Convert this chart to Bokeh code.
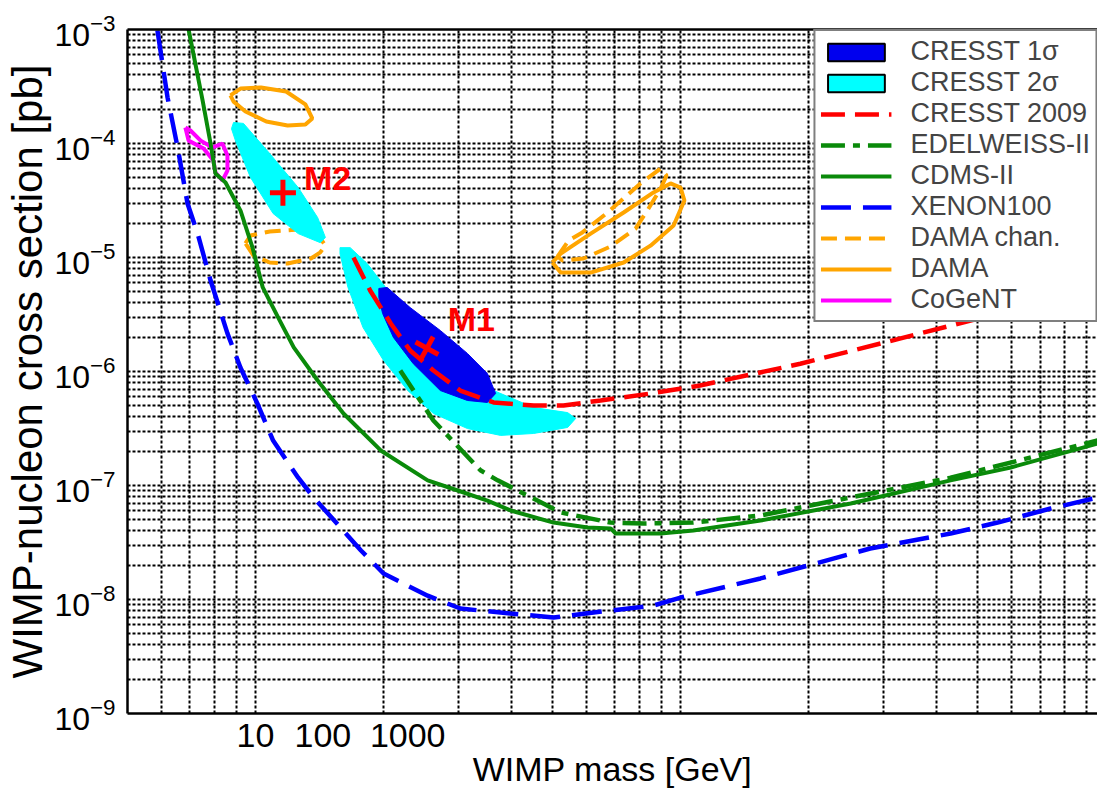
from bokeh.plotting import figure
from bokeh.models import (Range1d, FixedTicker, CustomJSTickFormatter, LogAxis,
                          LogTickFormatter, Legend, LegendItem)
from bokeh.embed import file_html
from bokeh.resources import INLINE
from bokeh.core.properties import value

FONT = "Liberation Sans"

# ---------------- data (mass in GeV, cross section in pb) ----------------
xenon_m = [5.88, 6.21, 6.56, 6.92, 7.31, 7.84, 8.59, 9.22, 10.1, 11.0, 12.6, 13.7, 17.7, 20.0,
           25.4, 30.3, 39.8, 50.2, 62.4, 86.3, 99.9, 154, 279, 431, 556, 741, 955]
xenon_s = [9.8e-4, 2.54e-4, 9.2e-5, 2.98e-5, 1.62e-5, 6.28e-6, 2.16e-6, 1.08e-6, 5.24e-7, 2.48e-7,
           1.17e-7, 7.85e-8, 2.69e-8, 1.69e-8, 1.08e-8, 8.34e-9, 7.53e-9, 6.95e-9, 7.69e-9, 8.85e-9,
           1.04e-8, 1.53e-8, 2.80e-8, 3.79e-8, 4.73e-8, 6.28e-8, 7.85e-8]

cdms_m = [6.96, 7.51, 7.84, 8.05, 8.50, 9.22, 9.84, 10.4, 11.3, 12.3, 14.0, 16.1, 19.7, 25.4,
          29.9, 35.1, 39.8, 50.2, 60.4, 68.4, 70.3, 89.7, 107, 154, 251, 431, 597, 955]
cdms_s = [1.0e-3, 2.38e-4, 1.0e-4, 5.46e-5, 4.55e-5, 2.58e-5, 1.22e-5, 5.46e-6, 2.98e-6, 1.63e-6,
          8.34e-7, 4.28e-7, 2.03e-7, 1.11e-7, 9.04e-8, 7.38e-8, 6.04e-8, 4.73e-8, 4.28e-8, 4.20e-8,
          3.79e-8, 3.79e-8, 4.03e-8, 4.93e-8, 6.95e-8, 1.11e-7, 1.44e-7, 2.33e-7]

edw_m = [21.9, 26.2, 33.8, 37.1, 46.0, 52.2, 68.4, 81.8, 107, 154, 251, 431, 955]
edw_s = [1.02e-6, 3.72e-7, 1.36e-7, 1.11e-7, 7.38e-8, 5.80e-8, 4.73e-8, 4.64e-8, 4.73e-8,
         5.46e-8, 7.85e-8, 1.17e-7, 2.48e-7]

cresst09_m = [17.0, 18.6, 20.8, 23.1, 26.2, 30.3, 36.3, 45.1, 53.0, 64.8, 84.9, 111, 191, 329, 521, 955]
cresst09_s = [1.0e-5, 5.14e-6, 2.64e-6, 1.53e-6, 1.02e-6, 6.81e-7, 5.35e-7, 5.03e-7, 5.03e-7,
              5.57e-7, 6.41e-7, 7.53e-7, 1.17e-6, 1.95e-6, 3.03e-6, 5.35e-6]

# CRESST 2 sigma regions
m1_2s_m = [15.8, 16.7, 18.3, 21.1, 25.4, 30.3, 36.3, 45.1, 54.2, 56.6, 54.2, 45.1, 37.7, 31.5,
           26.2, 22.8, 20.0, 17.9, 16.5, 15.8]
m1_2s_s = [1.22e-5, 1.22e-5, 8.86e-6, 4.46e-6, 2.16e-6, 1.17e-6, 6.81e-7, 4.83e-7, 4.36e-7,
           3.87e-7, 3.23e-7, 2.86e-7, 2.75e-7, 3.16e-7, 4.28e-7, 6.81e-7, 1.25e-6, 2.43e-6,
           5.46e-6, 1.08e-5]
m2_2s_m = [8.88, 9.37, 10.8, 12.6, 14.0, 14.6, 14.2, 12.6, 11.0, 9.73, 8.97, 8.78]
m2_2s_s = [1.53e-4, 1.50e-4, 8.16e-5, 4.11e-5, 2.24e-5, 1.50e-5, 1.35e-5, 1.62e-5, 2.43e-5,
           5.04e-5, 1.06e-4, 1.35e-4]
# CRESST 1 sigma region
m1_1s_m = [19.5, 20.4, 23.1, 27.2, 31.5, 35.1, 36.7, 35.1, 31.5, 27.2, 23.5, 21.1, 19.9, 19.5]
m1_1s_s = [5.35e-6, 5.46e-6, 3.64e-6, 2.29e-6, 1.44e-6, 9.59e-7, 6.41e-7, 5.35e-7, 5.57e-7,
           6.81e-7, 1.17e-6, 1.99e-6, 3.23e-6, 4.46e-6]

# DAMA contours
dama1_m = [8.73, 9.22, 10.3, 11.8, 13.1, 13.6, 13.1, 11.9, 10.6, 9.47, 8.88, 8.73]
dama1_s = [2.64e-4, 3.03e-4, 3.10e-4, 2.86e-4, 2.20e-4, 1.66e-4, 1.47e-4, 1.44e-4, 1.56e-4,
           1.91e-4, 2.33e-4, 2.64e-4]
dama2_m = [49.9, 52.2, 61.4, 73.4, 84.9, 96.2, 102, 99.9, 94.6, 86.3, 73.4, 61.4, 52.2, 49.9]
dama2_s = [9.04e-6, 7.38e-6, 7.38e-6, 9.04e-6, 1.27e-5, 1.91e-5, 3.16e-5, 4.11e-5, 4.46e-5,
           3.72e-5, 2.48e-5, 1.62e-5, 1.08e-5, 9.04e-6]
damach1_m = [9.47, 9.73, 10.8, 12.6, 14.1, 14.6, 14.2, 13.5, 11.9, 10.8, 9.89, 9.47]
damach1_s = [1.33e-5, 1.56e-5, 1.69e-5, 1.76e-5, 1.53e-5, 1.27e-5, 1.11e-5, 9.80e-6, 8.86e-6,
             9.04e-6, 1.04e-5, 1.33e-5]
damach2_m = [51.3, 54.5, 58.7, 67.3, 80.4, 89.7, 92.6, 89.7, 84.0, 78.3, 68.4, 59.1, 52.7, 51.3]
damach2_s = [1.02e-5, 1.41e-5, 1.66e-5, 2.48e-5, 4.46e-5, 6.04e-5, 5.24e-5, 4.03e-5, 2.69e-5,
             1.79e-5, 1.25e-5, 9.80e-6, 9.42e-6, 1.02e-5]

cogent_m = [6.84, 6.96, 7.55, 7.96, 8.05, 8.36, 8.59, 8.59, 8.36, 7.92, 7.43, 7.03, 6.84]
cogent_s = [1.38e-4, 1.06e-4, 9.04e-5, 7.10e-5, 5.57e-5, 4.73e-5, 5.79e-5, 7.85e-5, 1.0e-4,
            9.22e-5, 1.06e-4, 1.30e-4, 1.38e-4]

# best fit points
best_names = ["M1", "M2"]
best_m = [25.3, 11.6]
best_s = [1.6e-6, 3.7e-5]
best_label_m = [28.3, 13.0]
best_label_s = [2.86e-6, 5.0e-5]

# axis ticks
y_decades = [1e-9, 1e-8, 1e-7, 1e-6, 1e-5, 1e-4, 1e-3]
x_tick_pos = [10, 14.4, 22.8]
x_tick_labels = ["10", "100", "1000"]
x_grid = [k * 10 ** e for e in (0, 1, 2) for k in range(1, 10) if 5 < k * 10 ** e < 955]
y_grid = [k * 10.0 ** e for e in range(-9, -3) for k in range(1, 10)] + [1e-3]

# ---------------- figure ----------------
p = figure(width=1097, height=792, x_axis_type="log", y_axis_type="log",
           x_range=Range1d(5, 955), y_range=Range1d(1e-9, 1e-3),
           output_backend="svg", toolbar_location=None,
           min_border_left=127, min_border_right=0, min_border_top=29, min_border_bottom=79)
p.outline_line_color = None
p.background_fill_color = "white"

for g, t in ((p.xgrid[0], x_grid), (p.ygrid[0], y_grid)):
    g.ticker = FixedTicker(ticks=t)
    g.grid_line_color = "black"
    g.grid_line_dash = "3 2"
    g.grid_line_width = 2

yax = p.yaxis[0]
yax.ticker = FixedTicker(ticks=y_decades)
yax.formatter = LogTickFormatter()
xax = p.xaxis[0]
xax.ticker = FixedTicker(ticks=x_tick_pos)
xax.formatter = CustomJSTickFormatter(args=dict(labels=x_tick_labels), code="return labels[index];")
for ax in (xax, yax):
    ax.axis_line_width = 2.5
    ax.axis_line_color = "black"
    ax.major_tick_line_color = None
    ax.minor_tick_line_color = None
    ax.major_label_text_font = FONT
    ax.major_label_text_color = "black"
    ax.axis_label_text_font = FONT
    ax.axis_label_text_font_style = "normal"
    ax.axis_label_text_color = "black"
    ax.axis_label_standoff = 0
xax.major_label_text_font_size = "34px"
xax.major_label_standoff = 4
yax.major_label_text_font_size = "32px"
yax.major_label_standoff = 6
xax.axis_label = "WIMP mass [GeV]"
xax.axis_label_text_font_size = "34px"
yax.axis_label = "WIMP-nucleon cross section [pb]"
yax.axis_label_text_font_size = "42px"

top = LogAxis(ticker=FixedTicker(ticks=[]), axis_line_width=2.5, axis_line_color="black",
              major_tick_line_color=None, minor_tick_line_color=None)
p.add_layout(top, "above")

# ---------------- glyphs ----------------
ORANGE = "#ffa500"
GREEN = "#0a8a0a"
CYAN = "#00ffff"
DBLUE = "#0000ee"
r_dama = p.line(dama1_m, dama1_s, line_color=ORANGE, line_width=4)
p.line(dama2_m, dama2_s, line_color=ORANGE, line_width=4)
r_damach = p.line(damach1_m, damach1_s, line_color=ORANGE, line_width=4, line_dash="16 8")
p.line(damach2_m, damach2_s, line_color=ORANGE, line_width=4, line_dash="16 8")
r_cogent = p.line(cogent_m, cogent_s, line_color="#ff00ff", line_width=4)

p.patch(m2_2s_m, m2_2s_s, fill_color=CYAN, line_color=CYAN, line_width=1)
p.patch(m1_2s_m, m1_2s_s, fill_color=CYAN, line_color=CYAN, line_width=1)
p.patch(m1_1s_m, m1_1s_s, fill_color=DBLUE, line_color=DBLUE, line_width=1)
# hidden copies of the regions that carry the black outline shown in the key
r_1s = p.patch(m1_1s_m, m1_1s_s, fill_color=DBLUE, line_color="black", line_width=2, visible=False)
r_2s = p.patch(m1_2s_m, m1_2s_s, fill_color=CYAN, line_color="black", line_width=2, visible=False)

r_c09 = p.line(cresst09_m, cresst09_s, line_color="#ff0000", line_width=4.5, line_dash="24 10")
r_edw = p.line(edw_m, edw_s, line_color=GREEN, line_width=4.5, line_dash="24 8 7 8")
r_cdms = p.line(cdms_m, cdms_s, line_color=GREEN, line_width=4)
r_xe = p.line(xenon_m, xenon_s, line_color="#0000ff", line_width=4.5, line_dash="30 12")

p.scatter([best_m[1]], [best_s[1]], marker="cross", size=26, line_width=5, line_color="#ff0000")
p.scatter([best_m[0]], [best_s[0]], marker="cross", size=26, line_width=5, line_color="#ff0000",
          angle=-0.5)
p.text(best_label_m, best_label_s, text=best_names, text_font=value(FONT), text_font_style="bold",
       text_font_size="34px", text_color="#ff0000", text_align="left", text_baseline="middle")

legend = Legend(items=[
    LegendItem(label="CRESST 1σ", renderers=[r_1s]),
    LegendItem(label="CRESST 2σ", renderers=[r_2s]),
    LegendItem(label="CRESST 2009", renderers=[r_c09]),
    LegendItem(label="EDELWEISS-II", renderers=[r_edw]),
    LegendItem(label="CDMS-II", renderers=[r_cdms]),
    LegendItem(label="XENON100", renderers=[r_xe]),
    LegendItem(label="DAMA chan.", renderers=[r_damach]),
    LegendItem(label="DAMA", renderers=[r_dama]),
    LegendItem(label="CoGeNT", renderers=[r_cogent]),
], location="top_right", margin=0, padding=5, spacing=0, glyph_width=71, glyph_height=22,
    label_height=22, label_standoff=19, label_text_font=FONT, label_text_font_size="27px",
    border_line_color="black", border_line_width=2.5, background_fill_color="white",
    background_fill_alpha=1.0, click_policy="none", inactive_fill_alpha=0.0)
p.add_layout(legend)

open("out.html", "w").write(file_html(p, INLINE))
